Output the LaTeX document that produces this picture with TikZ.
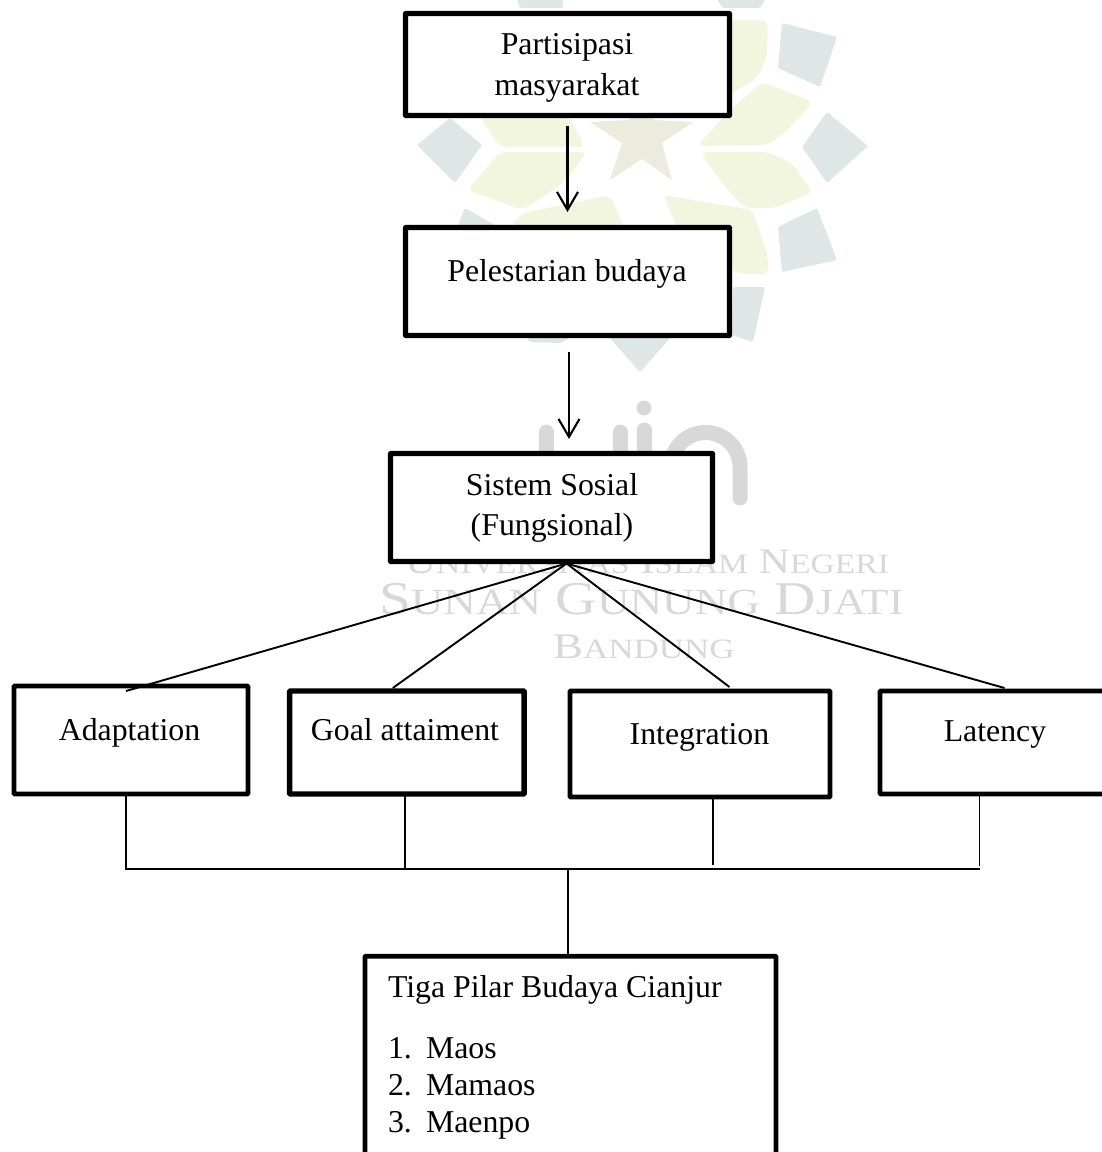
\documentclass[tikz,border=0pt]{standalone}
\usepackage{fontspec}
\setmainfont{Liberation Serif}
\usetikzlibrary{arrows.meta,calc}
\definecolor{wteal}{HTML}{DEE6E6}
\definecolor{wgreen}{HTML}{F3F6DF}
\definecolor{wstar}{HTML}{EDEBDD}
\definecolor{wgray}{HTML}{D8D8D8}
\newcommand{\bigc}[1]{{\fontsize{47}{47}\selectfont #1}}
\newcommand{\smlc}[1]{{\fontsize{37}{37}\selectfont #1}}
\newcommand{\bigd}[1]{{\fontsize{36}{36}\selectfont #1}}
\newcommand{\smld}[1]{{\fontsize{28}{28}\selectfont #1}}
\tikzset{
  boxx/.style={draw=black,fill=white,line width=5.4pt,inner sep=0pt,outer sep=0pt,rounded corners=0.8pt},
  label/.style={inner sep=0pt,outer sep=0pt,anchor=base,font=\fontsize{31.8}{36}\selectfont},
  labelleft/.style={inner sep=0pt,outer sep=0pt,anchor=base west,font=\fontsize{31.8}{36}\selectfont},
  wm/.style={inner sep=0pt,outer sep=0pt,anchor=base west,text=wgray},
  arrowline/.style={draw=black,line width=2.1pt,-{Straight Barb[length=18pt,width=21pt,line width=2.1pt]}},
  conn/.style={draw=black,line width=1.9pt},
  petal/.style={fill=wgreen,rounded corners=7pt},
  block/.style={fill=wteal,rounded corners=1.5pt},
}
\begin{document}
\begin{tikzpicture}[x=1pt,y=-1pt]
\useasboundingbox (0,0) rectangle (1102,1152);
\clip (0,0) rectangle (1102,1152);
% watermark: emblem
\fill[block] (417,145)--(450,118)--(482,145)--(455,183)--cycle;
\fill[block] (868,146)--(827,112)--(802,147)--(827,183)--cycle;
\fill[block] (782,23)--(837,37)--(820,87)--(778,68)--cycle;
\fill[block] (778,227)--(817,208)--(837,260)--(782,272)--cycle;
\fill[block] (733,287)--(765,287)--(753,342)--(732,335)--cycle;
\fill[block] (610,338)--(670,338)--(640,372)--cycle;
\fill[block] (452,240)--(465,208)--(500,228)--(500,240)--cycle;
\fill[block] (517,0)--(563,0)--(563,8)--(520,8)--cycle;
\fill[block] (717,0)--(765,0)--(760,8)--(723,8)--cycle;
\fill[block] (527,338)--(570,338)--(560,343)--(530,342)--cycle;
\fill[petal] (722,20)--(768,20)--(767,57)--(758,77)--(722,100)--cycle;
\fill[petal] (697,146)--(730,110)--(762,82)--(813,102)--(788,130)--(768,145)--cycle;
\fill[petal] (700,152)--(768,152)--(792,163)--(813,192)--(775,208)--(745,208)--(725,187)--cycle;
\fill[petal] (663,195)--(753,210)--(768,257)--(768,275)--(735,273)--(677,228)--cycle;
\fill[petal] (477,112)--(500,147)--(585,147)--(570,118)--(555,105)--cycle;
\fill[petal] (467,190)--(500,152)--(587,152)--(565,182)--(523,210)--cycle;
\fill[petal] (510,225)--(523,213)--(610,195)--(625,228)--cycle;
\fill[wstar] (641,98)--(654,120)--(693,122)--(662,143)--(672,180)--(642,159)--(610,180)--(622,143)--(590,122)--(629,120)--cycle;
% watermark: word mark
\draw[wgray,line width=15pt,line cap=round] (546,432)--(546,470);
\draw[wgray,line width=15pt,line cap=round] (620,432)--(620,470);
\draw[wgray,line width=15pt,line cap=round] (644,430)--(644,470);
\fill[wgray] (644,408) circle (7.5);
\draw[wgray,line width=15pt,line cap=round] (671,480)--(671,467) arc[start angle=180,end angle=360,radius=34.5]--(740,498);
\node[wm,font=\fontsize{36}{36}\selectfont] (wma) at (405,573) {\scalebox{1.2}[1]{\bigd{U}\smld{NIVERSITAS} \bigd{I}\smld{SLAM} \bigd{N}\smld{EGERI}}};
\node[wm,font=\fontsize{47}{47}\selectfont] (wmb) at (379,614) {\scalebox{1.22}[1]{\bigc{S}\smlc{UNAN} \bigc{G}\smlc{UNUNG} \bigc{D}\smlc{JATI}}};
\node[wm] (wmc) at (553,658) {\scalebox{1.25}[1]{\bigd{B}\smld{ANDUNG}}};
% boxes
\node[boxx,minimum width=324pt,minimum height=102pt] (part) at (567.5,64.5) {};
\node[boxx,minimum width=324pt,minimum height=108pt] (pel) at (567.5,281.5) {};
\node[boxx,minimum width=322pt,minimum height=108pt] (sis) at (551.5,507.5) {};
\node[boxx,line width=4.8pt,minimum width=234pt,minimum height=108pt] (ada) at (131,740) {};
\node[boxx,minimum width=234.5pt,minimum height=103pt] (goal) at (406.8,742.5) {};
\node[boxx,line width=4.8pt,minimum width=260pt,minimum height=106pt] (integ) at (700,744) {};
\node[boxx,line width=4.8pt,minimum width=320pt,minimum height=103pt] (lat) at (1040,742.5) {};
\node[boxx,line width=4.8pt,minimum width=411pt,minimum height=293.5pt] (tiga) at (570.5,1103) {};
% labels
\node[label] (t1) at (567,54) {Partisipasi};
\node[label] (t2) at (567,95) {masyarakat};
\node[label] (t3) at (567,281) {Pelestarian budaya};
\node[label] (t4) at (552,495) {Sistem Sosial};
\node[label] (t5) at (552,535) {(Fungsional)};
\node[label] (t6) at (129.5,740) {Adaptation};
\node[label] (t7) at (405,740) {Goal attaiment};
\node[label] (t8) at (699.5,744) {Integration};
\node[label] (t9) at (995,741) {Latency};
\node[labelleft] (t10) at (388,997) {Tiga Pilar Budaya Cianjur};
\node[labelleft] (n1) at (388,1058) {1.};
\node[labelleft] (n2) at (388,1095) {2.};
\node[labelleft] (n3) at (388,1132) {3.};
\node[labelleft] (m1) at (426,1058) {Maos};
\node[labelleft] (m2) at (426,1095) {Mamaos};
\node[labelleft] (m3) at (426,1132) {Maenpo};
% connectors
\draw[arrowline] ($(part.south)+(0,10)$) -- ($(pel.north)+(0,-15.5)$);
\draw[arrowline] ($(pel.south)+(1.5,16.5)$) -- ($(sis.north)+(17.5,-14.5)$);
\coordinate (hub) at ($(sis.south)+(15,2)$);
\draw[conn] (hub) -- ($(ada.north)+(-5,5)$);
\draw[conn] (hub) -- ($(goal.north)+(-14,-3)$);
\draw[conn] (hub) -- ($(integ.north)+(29.5,-4)$);
\draw[conn] (hub) -- ($(lat.north)+(-35.5,-3)$);
\coordinate (busl) at ($(ada.south)+(-5,75)$);
\coordinate (busr) at ($(lat.south)+(-60.5,75)$);
\draw[conn] (ada.south -| busl) -- (busl) -- (busr);
\draw[conn] ($(goal.south)+(-1.8,2)$) -- ($(goal.south)+(-1.8,75)$);
\draw[conn] ($(integ.south)+(13,0)$) -- ($(integ.south)+(13,68)$);
\draw[conn] ($(lat.south)+(-60.5,0)$) -- ($(lat.south)+(-60.5,72)$);
\draw[conn] (busl -| tiga.north) ++(-2.5,0) -- ($(tiga.north)+(-2.5,0)$);
\end{tikzpicture}
\end{document}
